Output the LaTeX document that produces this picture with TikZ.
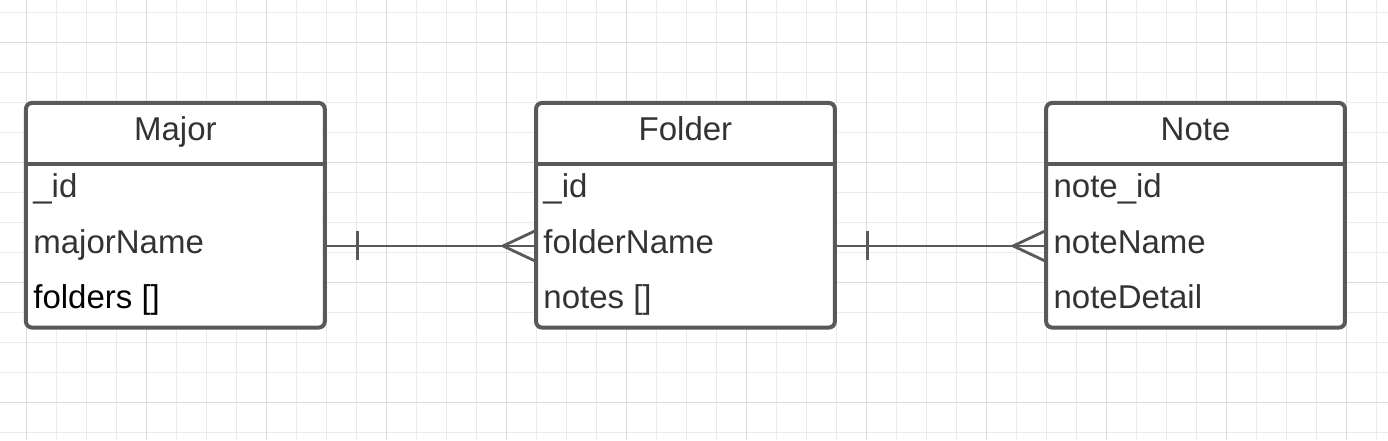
\documentclass[tikz,border=0pt]{standalone}
\usepackage{fontspec}
\setmainfont{Liberation Sans}
\usetikzlibrary{calc,positioning}
\definecolor{linegray}{HTML}{595959}
\definecolor{textgray}{HTML}{333333}
\definecolor{gridminor}{HTML}{EBEBEB}
\definecolor{gridmajor}{HTML}{DCDCDC}
\tikzset{
  entity/.style={draw=linegray, line width=2pt, rounded corners=3pt, fill=white,
    minimum width=149.4pt, minimum height=112.3pt, inner sep=0pt, outer sep=0pt},
  title/.style={font=\fontsize{16.5}{18}\selectfont, text=textgray, inner sep=0pt, anchor=base},
  field/.style={font=\fontsize{16.5}{18}\selectfont, text=textgray, inner sep=0pt, anchor=base west},
  divider/.style={draw=linegray, line width=2pt},
  rel/.style={draw=linegray, line width=1.4pt},
  gridline/.style={draw=gridminor, line width=0.5pt},
  gridbold/.style={draw=gridmajor, line width=0.6pt}
}

\begin{document}
\begin{tikzpicture}[x=0.5pt, y=-0.5pt, node distance=105.65pt]
  \useasboundingbox (0,0) rectangle (1388,440);
  \fill[white] (0,0) rectangle (1388,440);
  % background grid
  \foreach \k in {0,...,45} \draw[gridline] (26.7+30*\k,0) -- (26.7+30*\k,440);
  \foreach \k in {0,...,14} \draw[gridline] (0,12.3+30*\k) -- (1388,12.3+30*\k);
  \foreach \k in {0,...,11} \draw[gridbold] (26.7+120*\k,0) -- (26.7+120*\k,440);
  \foreach \k in {0,...,3} \draw[gridbold] (0,42.3+120*\k) -- (1388,42.3+120*\k);

  % entities
  \node[entity] (major) at (175.35,215.25) {};
  \node[entity, right=of major] (folder) {};
  \node[entity, right=of folder] (note) {};
  \draw[divider] ([yshift=-30.35pt]major.north west) -- ([yshift=-30.35pt]major.north east);
  \draw[divider] ([yshift=-30.35pt]folder.north west) -- ([yshift=-30.35pt]folder.north east);
  \draw[divider] ([yshift=-30.35pt]note.north west) -- ([yshift=-30.35pt]note.north east);

  \node[title] (majorTitle) at ([yshift=-18.75pt]major.north) {Major};
  \node[field] (majorId) at ([xshift=3.5pt, yshift=-47.5pt]major.north west) {\_id};
  \node[field] (majorName) at ([xshift=3.5pt, yshift=-75.25pt]major.north west) {majorName};
  \node[field, text=black] (majorFolders) at ([xshift=3.5pt, yshift=-103pt]major.north west) {folders []};

  \node[title] (folderTitle) at ([yshift=-18.75pt]folder.north) {Folder};
  \node[field] (folderId) at ([xshift=3.5pt, yshift=-47.5pt]folder.north west) {\_id};
  \node[field] (folderName) at ([xshift=3.5pt, yshift=-75.25pt]folder.north west) {folderName};
  \node[field] (folderNotes) at ([xshift=3.5pt, yshift=-103pt]folder.north west) {notes []};

  \node[title] (noteTitle) at ([yshift=-18.75pt]note.north) {Note};
  \node[field] (noteId) at ([xshift=3.5pt, yshift=-47.5pt]note.north west) {note\_id};
  \node[field] (noteName) at ([xshift=3.5pt, yshift=-75.25pt]note.north west) {noteName};
  \node[field] (noteDetail) at ([xshift=3.5pt, yshift=-103pt]note.north west) {noteDetail};

  % relations: one to many
  \draw[rel] ([yshift=-71.5pt]major.north east) -- ([yshift=-71.5pt]folder.north west);
  \draw[rel] ([xshift=16.5pt, yshift=-64.25pt]major.north east) -- ([xshift=16.5pt, yshift=-78.75pt]major.north east);
  \draw[rel] ([yshift=-63.75pt]folder.north west) -- ([xshift=-16.5pt, yshift=-71.5pt]folder.north west)
    -- ([yshift=-79.25pt]folder.north west);

  \draw[rel] ([yshift=-71.5pt]folder.north east) -- ([yshift=-71.5pt]note.north west);
  \draw[rel] ([xshift=16.5pt, yshift=-64.25pt]folder.north east) -- ([xshift=16.5pt, yshift=-78.75pt]folder.north east);
  \draw[rel] ([yshift=-63.75pt]note.north west) -- ([xshift=-16.5pt, yshift=-71.5pt]note.north west)
    -- ([yshift=-79.25pt]note.north west);
\end{tikzpicture}
\end{document}
